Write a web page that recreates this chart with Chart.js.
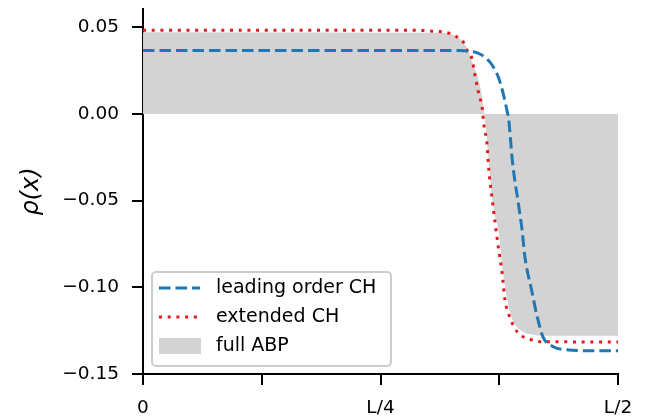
<!DOCTYPE html>
<html>
<head>
<meta charset="utf-8">
<script src="https://cdn.jsdelivr.net/npm/chart.js@4"></script>
<style>
  html, body { margin: 0; padding: 0; background: #fff; }
  #wrap { width: 654px; height: 418px; }
</style>
</head>
<body>
<div id="wrap"><canvas id="chart"></canvas></div>
<script>
// x in units of L (0 .. L/2)
const xLead = [0, 0.334, 0.341, 0.352, 0.365, 0.374, 0.379, 0.383, 0.385, 0.389, 0.395, 0.399, 0.402, 0.409, 0.415, 0.421, 0.432, 0.446, 0.478, 0.5];
const yLead = [0.0365, 0.0365, 0.0362, 0.0352, 0.0300, 0.0213, 0.0121, 0.0023, -0.0035, -0.0282, -0.0513, -0.0669, -0.0824, -0.1015, -0.1170, -0.1286, -0.1343, -0.1360, -0.1366, -0.1366];

const xExt = [0, 0.29, 0.302, 0.321, 0.3305, 0.337, 0.341, 0.346, 0.349, 0.353, 0.357, 0.359, 0.362, 0.364, 0.367, 0.3705, 0.374, 0.378, 0.381, 0.386, 0.394, 0.409, 0.418, 0.5];
const yExt = [0.0482, 0.0482, 0.0478, 0.0467, 0.0444, 0.0415, 0.0369, 0.0323, 0.0236, 0.0127, 0.0035, -0.0069, -0.0167, -0.0323, -0.0467, -0.0623, -0.0767, -0.0917, -0.1072, -0.1170, -0.1257, -0.1303, -0.1314, -0.1315];

const xAbp = [0, 0.31, 0.316, 0.3305, 0.341, 0.347, 0.355, 0.359, 0.362, 0.365, 0.369, 0.374, 0.379, 0.384, 0.389, 0.400, 0.4105, 0.421, 0.5];
const yAbp = [0.0471, 0.0468, 0.0467, 0.0444, 0.0381, 0.0294, 0.0156, 0.0012, -0.0150, -0.0346, -0.0553, -0.0669, -0.0917, -0.1089, -0.1187, -0.1257, -0.1274, -0.1280, -0.1280];

const xTickLabels = ["0", "", "L/4", "", "L/2"];
const yTicks = [-0.15, -0.10, -0.05, 0.00, 0.05];

const pts = (xs, ys) => xs.map((x, i) => ({ x, y: ys[i] }));

Chart.defaults.font.family = "'DejaVu Sans', sans-serif";
Chart.defaults.color = "#000";

// matplotlib-style legend drawn inside the axes
const legendInside = {
  id: "legendInside",
  afterDraw(chart) {
    const { ctx, chartArea } = chart;
    const x0 = chartArea.left + 9, y0 = chartArea.bottom - 102, w = 239, h = 94;
    ctx.save();
    ctx.fillStyle = "rgba(255,255,255,0.8)";
    ctx.strokeStyle = "#cccccc";
    ctx.lineWidth = 2;
    ctx.beginPath();
    ctx.roundRect(x0, y0, w, h, 4);
    ctx.fill();
    ctx.stroke();
    ctx.font = "19px 'DejaVu Sans'";
    ctx.textBaseline = "middle";
    chart.data.datasets.forEach((ds, i) => {
      const cy = y0 + 16 + i * 29;
      const hx = x0 + 7;
      if (ds.fill) {
        ctx.fillStyle = ds.backgroundColor;
        ctx.fillRect(hx, cy - 8, 42, 16);
      } else {
        ctx.strokeStyle = ds.borderColor;
        ctx.lineWidth = ds.borderWidth;
        ctx.setLineDash(ds.borderDash || []);
        ctx.beginPath();
        ctx.moveTo(hx, cy);
        ctx.lineTo(hx + 41, cy);
        ctx.stroke();
        ctx.setLineDash([]);
      }
      ctx.fillStyle = "#000";
      ctx.fillText(ds.label, x0 + 64, cy);
    });
    ctx.restore();
  },
};

new Chart(document.getElementById("chart"), {
  type: "line",
  data: {
    datasets: [
      {
        label: "leading order CH",
        data: pts(xLead, yLead),
        borderColor: "#1f77b4",
        borderWidth: 3,
        borderDash: [11.5, 5],
        pointRadius: 0,
        fill: false,
        cubicInterpolationMode: "monotone",
      },
      {
        label: "extended CH",
        data: pts(xExt, yExt),
        borderColor: "#e3191c",
        borderWidth: 3,
        borderDash: [3, 5.7],
        pointRadius: 0,
        fill: false,
        cubicInterpolationMode: "monotone",
      },
      {
        label: "full ABP",
        data: pts(xAbp, yAbp),
        borderColor: "rgba(0,0,0,0)",
        borderWidth: 0,
        backgroundColor: "#d3d3d3",
        pointRadius: 0,
        fill: "origin",
        cubicInterpolationMode: "monotone",
      },
    ],
  },
  options: {
    responsive: true,
    maintainAspectRatio: false,
    animation: false,
    layout: { padding: { top: 9, right: 36, left: 0, bottom: 0 } },
    plugins: {
      legend: { display: false },
      tooltip: { enabled: false },
    },
    scales: {
      x: {
        type: "linear",
        min: 0,
        max: 0.5,
        border: { color: "#000", width: 2 },
        grid: { drawOnChartArea: false, drawTicks: true, tickLength: 11, color: "#000", lineWidth: 2 },
        ticks: {
          stepSize: 0.125,
          padding: 12,
          maxRotation: 0,
          font: { size: 18.5 },
          color: "#000",
          callback: (v) => xTickLabels[Math.round(v / 0.125)] ?? "",
        },
        afterFit: (s) => {
          s.height = 44;
          s.paddingLeft = 0;
          s.paddingRight = 0;
        },
      },
      y: {
        min: -0.15,
        max: 0.0605,
        border: { color: "#000", width: 2 },
        grid: { drawOnChartArea: false, drawTicks: true, tickLength: 11, color: "#000", lineWidth: 2 },
        afterBuildTicks: (s) => { s.ticks = yTicks.map((v) => ({ value: v })); },
        ticks: {
          padding: 13,
          font: { size: 18.5 },
          color: "#000",
          callback: (v) => v.toFixed(2).replace("-", "\u2212"),
        },
        title: {
          display: true,
          text: "ρ(x)",
          font: { size: 24, style: "italic" },
          color: "#000",
          padding: { top: 17, bottom: 0 },
        },
        afterFit: (s) => {
          s.width = 143;
          s.paddingTop = 0;
          s.paddingBottom = 0;
        },
      },
    },
  },
  plugins: [legendInside],
});
</script>
</body>
</html>
